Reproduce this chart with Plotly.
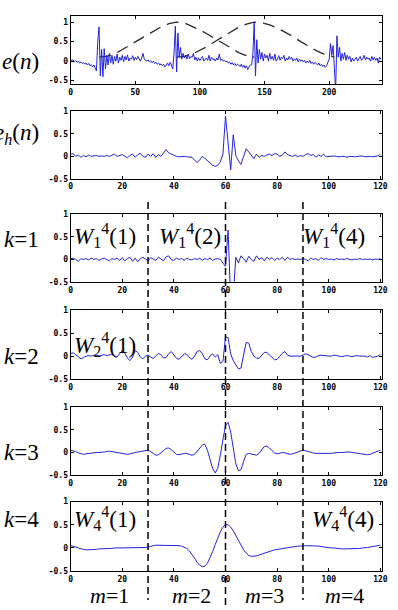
import plotly.graph_objects as go

# ---------------- data ----------------
e_n = [
    0.05, 0.02, 0.03, -0.02, 0.01, -0.03, 0.0, -0.05, -0.02, -0.06,
    -0.04, -0.08, -0.05, -0.1, -0.06, -0.12, -0.09, -0.15, -0.1, -0.2,
    -0.25, 0.5, 0.88, -0.38, 0.3, -0.4, 0.32, -0.2, 0.15, -0.1,
    0.2, -0.05, 0.15, -0.08, 0.12, 0.0, 0.18, -0.05, 0.1, 0.02,
    0.15, -0.02, 0.12, 0.03, 0.16, 0.0, 0.08, 0.05, 0.14, 0.02,
    0.1, 0.04, 0.12, 0.06, 0.0, 0.08, 0.2, 0.05, 0.02, 0.0,
    0.03, -0.02, 0.01, -0.04, 0.0, -0.06, -0.03, -0.08, -0.05, -0.1,
    -0.07, -0.12, -0.08, -0.15, -0.1, -0.05, -0.12, -0.03, -0.1, -0.2,
    0.2, 0.9, -0.28, 0.72, 0.1, 0.35, 0.05, 0.2, 0.08, 0.15,
    0.05, 0.18, 0.06, 0.12, 0.1, 0.2, 0.03, 0.1, 0.0, 0.08,
    0.02, 0.06, 0.12, 0.0, 0.05, 0.08, 0.02, 0.15, 0.0, 0.1,
    0.04, 0.06, 0.0, 0.08, 0.03, 0.18, 0.02, 0.05, 0.0, 0.02,
    -0.02, 0.0, -0.05, -0.02, -0.08, -0.04, -0.1, -0.06, -0.12, -0.08,
    -0.1, -0.14, -0.08, -0.16, -0.1, -0.18, -0.12, -0.22, -0.15, -0.1,
    -0.1, 0.2, 1.0, -0.38, 0.55, -0.05, 0.3, 0.05, 0.22, 0.0,
    0.18, 0.08, 0.15, 0.0, 0.2, 0.05, 0.12, 0.02, 0.18, 0.0,
    0.05, 0.14, 0.02, 0.1, 0.06, 0.15, 0.0, 0.08, 0.03, 0.12,
    0.05, 0.1, 0.0, 0.06, 0.02, 0.08, -0.02, 0.05, 0.0, 0.03,
    -0.02, 0.02, -0.05, 0.0, -0.04, 0.02, -0.06, -0.02, -0.08, -0.03,
    -0.06, -0.1, -0.05, -0.12, -0.08, -0.14, -0.1, -0.16, -0.12, -0.05,
    0.05, 0.45, 0.15, 0.4, -0.3, -0.75, 0.65, 0.1, 0.35, 0.0,
    0.2, 0.05, 0.22, 0.02, 0.15, 0.05, 0.12, -0.02, 0.08, 0.0,
    0.05, 0.1, 0.0, 0.08, 0.12, 0.02, 0.06, 0.15, 0.03, 0.1,
    0.05, 0.08, 0.0, 0.12, 0.03, 0.1, 0.02, 0.08, -0.05, 0.1,
    0.05,
]

window_a_n = [22, 28, 34, 40, 46, 52, 58, 64, 70, 76, 82, 88, 94, 100, 106, 112, 118, 124, 130, 136, 142]
window_a_v = [0.10, 0.12, 0.18, 0.30, 0.41, 0.53, 0.66, 0.78, 0.88, 0.96, 1.0, 0.98, 0.90, 0.80, 0.69, 0.57, 0.45, 0.33, 0.22, 0.14, 0.10]
window_b_n = [82, 88, 94, 100, 106, 112, 118, 124, 130, 136, 142, 148, 154, 160, 166, 172, 178, 184, 190, 196, 202, 204]
window_b_v = [0.10, 0.12, 0.18, 0.27, 0.38, 0.51, 0.63, 0.76, 0.87, 0.95, 1.0, 0.98, 0.93, 0.85, 0.75, 0.63, 0.50, 0.38, 0.27, 0.18, 0.12, 0.10]

e_h = [
    0.05, 0.06, 0.0, 0.03, -0.02, 0.02, -0.01, 0.03, 0.0, 0.01,
    0.02, 0.0, 0.01, 0.0, 0.02, 0.0, 0.03, 0.05, 0.0, 0.02,
    0.04, 0.0, -0.03, 0.02, 0.05, -0.02, 0.04, 0.07, 0.0, -0.02,
    0.05, 0.0, 0.06, -0.02, 0.04, 0.0, 0.08, 0.15, 0.08, 0.05,
    0.02, 0.0, -0.01, 0.0, 0.0, -0.01, -0.02, -0.02, -0.08, -0.14,
    -0.08, 0.0, -0.04, -0.1, -0.16, -0.2, -0.22, -0.2, -0.12, 0.05,
    0.9, 0.35, -0.3, 0.48, 0.02, -0.1, -0.18, 0.0, 0.17, 0.1,
    0.02, -0.05, 0.05, -0.02, 0.02, 0.0, 0.03, 0.05, 0.02, 0.06,
    0.05, 0.0, 0.03, 0.1, 0.04, 0.02, 0.0, 0.03, -0.01, 0.02,
    0.0, 0.04, 0.06, 0.02, 0.04, -0.02, 0.03, 0.0, 0.05, -0.01,
    0.0, 0.0, 0.01, 0.0, -0.01, 0.0, 0.0, -0.02, 0.0, 0.0,
    -0.01, 0.0, 0.0, 0.01, -0.01, 0.0, 0.0, -0.01, 0.0, 0.01,
    0.05,
]

w_k1 = [
    0.02, 0.03, 0.0, -0.04, 0.02, 0.0, 0.02, -0.01, 0.03, 0.0,
    0.02, -0.02, 0.01, 0.03, 0.0, -0.03, 0.02, 0.0, 0.03, -0.02,
    0.04, -0.03, 0.02, 0.05, -0.04, 0.03, -0.05, 0.02, 0.05, 0.0,
    -0.03, 0.04, 0.0, -0.02, 0.05, 0.0, -0.03, 0.06, 0.08, 0.0,
    -0.02, 0.03, 0.0, 0.02, -0.02, 0.03, 0.0, -0.01, 0.02, 0.0,
    0.03, -0.02, 0.02, 0.0, 0.03, -0.02, 0.01, 0.02, 0.0, -0.08,
    -0.15, 0.65, -0.9, -0.8, 0.05, -0.08, 0.08, 0.02, -0.06, 0.07,
    0.0, -0.04, 0.08, 0.0, 0.04, -0.03, 0.05, 0.0, 0.04, -0.02,
    0.03, 0.0, 0.05, -0.02, 0.05, 0.0, 0.02, 0.0, 0.01, 0.0,
    0.02, 0.0, -0.03, 0.03, 0.0, 0.02, -0.02, 0.04, 0.0, 0.02,
    0.0, 0.01, -0.01, 0.02, 0.0, 0.01, 0.0, 0.02, 0.0, -0.01,
    0.01, 0.0, 0.02, 0.0, 0.01, 0.0, 0.01, -0.01, 0.01, 0.0,
    0.02,
]

w_k2 = [
    0.06, 0.07, 0.03, -0.02, -0.06, -0.03, 0.0, 0.01, 0.0, 0.02,
    0.02, 0.0, 0.02, 0.03, 0.01, 0.02, 0.04, 0.0, -0.02, 0.05,
    0.12, 0.06, -0.04, -0.1, -0.02, 0.12, 0.08, -0.02, -0.06, 0.0,
    0.02, -0.02, -0.05, 0.0, 0.06, 0.03, -0.04, -0.03, 0.05, 0.1,
    0.03, -0.05, -0.07, 0.0, 0.05, 0.04, -0.03, -0.07, 0.0, 0.1,
    0.12, 0.05, -0.06, -0.08, 0.0, 0.05, -0.02, 0.03, -0.16, -0.12,
    0.42, 0.4, 0.05, -0.1, -0.2, -0.28, -0.26, 0.05, 0.3, 0.28,
    0.1, 0.0, -0.04, -0.05, 0.02, 0.08, 0.08, 0.03, -0.03, -0.08,
    -0.07, 0.0, 0.06, 0.1, 0.02, 0.0, 0.0, 0.0, -0.01, 0.0,
    0.02, 0.05, 0.03, 0.0, -0.03, -0.02, 0.01, 0.02, 0.01, 0.0,
    0.0, 0.0, 0.02, 0.01, 0.0, -0.01, 0.0, 0.01, 0.0, -0.01,
    0.0, 0.01, 0.0, 0.0, 0.0, -0.02, 0.01, -0.03, -0.01, 0.0,
    0.04,
]

w_k3 = [
    0.05, 0.04, 0.02, -0.01, -0.03, -0.04, -0.03, -0.02, -0.01, 0.0,
    0.0, 0.0, 0.0, 0.01, 0.02, 0.03, 0.02, 0.01, 0.0, -0.02,
    -0.03, -0.04, -0.04, -0.03, -0.01, 0.0, 0.01, 0.02, 0.03, 0.04,
    0.05, 0.02, -0.03, -0.06, -0.05, -0.01, 0.04, 0.09, 0.1, 0.06,
    0.0, -0.04, -0.05, -0.03, -0.02, -0.02, -0.04, -0.06, -0.04, 0.02,
    0.1, 0.16, 0.18, 0.05, -0.15, -0.35, -0.45, -0.35, -0.05, 0.3,
    0.6, 0.66, 0.45, 0.1, -0.25, -0.4, -0.38, -0.2, -0.04, -0.02,
    -0.03, -0.05, -0.06, -0.02, 0.06, 0.13, 0.14, 0.1, 0.04, -0.01,
    -0.03, -0.02, 0.0, -0.01, -0.03, -0.04, -0.03, -0.01, 0.01, 0.03,
    0.05, 0.04, 0.02, 0.0, -0.01, -0.02, -0.02, -0.02, -0.03, -0.03,
    -0.03, -0.02, -0.01, 0.0, 0.0, 0.0, 0.01, 0.01, 0.01, 0.0,
    0.0, -0.01, -0.02, -0.03, -0.04, -0.05, -0.04, -0.02, 0.0, 0.03,
    0.05,
]

w_k4 = [
    0.05, 0.04, 0.02, 0.0, -0.02, -0.03, -0.04, -0.04, -0.04, -0.03,
    -0.03, -0.02, -0.02, -0.01, -0.01, -0.01, -0.01, 0.0, 0.0, 0.0,
    0.0, 0.0, 0.0, 0.0, 0.0, 0.0, 0.0, 0.0, 0.01, 0.01,
    0.02, 0.04, 0.05, 0.06, 0.06, 0.06, 0.06, 0.05, 0.05, 0.05,
    0.05, 0.05, 0.05, 0.04, 0.02, -0.01, -0.06, -0.13, -0.22, -0.31,
    -0.37, -0.4, -0.39, -0.33, -0.22, -0.08, 0.07, 0.22, 0.35, 0.45,
    0.5, 0.5, 0.45, 0.37, 0.27, 0.16, 0.05, -0.04, -0.11, -0.16,
    -0.18, -0.18, -0.17, -0.15, -0.13, -0.11, -0.09, -0.07, -0.05, -0.04,
    -0.03, -0.02, -0.01, 0.0, 0.0, 0.01, 0.02, 0.03, 0.04, 0.04,
    0.05, 0.05, 0.05, 0.05, 0.05, 0.04, 0.04, 0.03, 0.02, 0.02,
    0.01, 0.0, 0.0, -0.01, -0.01, -0.02, -0.02, -0.02, -0.02, -0.02,
    -0.02, -0.01, -0.01, 0.0, 0.0, 0.01, 0.02, 0.03, 0.04, 0.05,
    0.06,
]

top_xticks = [0, 50, 100, 150, 200]
sub_xticks = [0, 20, 40, 60, 80, 100, 120]
y_ticks = [-0.5, 0, 0.5, 1]
y_ticktext = ["-0.5", "0", "0.5", "1"]
boundaries = [30, 60, 90]
m_labels = ["<i>m</i>=1", "<i>m</i>=2", "<i>m</i>=3", "<i>m</i>=4"]
m_centers = [15, 47, 75, 106]
left_labels = ["<i>e</i>(<i>n</i>)", "<i>e<sub>h</sub></i>(<i>n</i>)",
               "<i>k</i>=1", "<i>k</i>=2", "<i>k</i>=3", "<i>k</i>=4"]
left_label_y = [0, 0.5, 0.45, 0, 0, 0.62]

# ---------------- layout geometry (pixels) ----------------
W, H = 398, 610
panels_px = [(12.5, 81.7), (109, 177.5), (213.3, 282.3), (310.7, 380.7), (409, 478.3), (505, 575.7)]

def ydom(top, bot):
    return [1 - bot / H, 1 - top / H]

blue = "#2323dc"
fig = go.Figure()

# panel 1 windows (dashed)
for xs, ys in [(window_a_n, window_a_v), (window_b_n, window_b_v)]:
    fig.add_trace(go.Scatter(x=xs, y=ys, xaxis="x", yaxis="y", mode="lines",
                             line=dict(color="#2a2a2a", width=1.3, dash="12px,7px"),
                             hoverinfo="skip"))
fig.add_trace(go.Scatter(x=list(range(len(e_n))), y=e_n, xaxis="x", yaxis="y",
                         mode="lines", line=dict(color=blue, width=1)))

series = [e_h, w_k1, w_k2, w_k3, w_k4]
for i, s in enumerate(series):
    k = i + 2
    fig.add_trace(go.Scatter(x=list(range(len(s))), y=s, xaxis=f"x{k}", yaxis=f"y{k}",
                             mode="lines", line=dict(color=blue, width=1)))

axis_common = dict(showline=True, linecolor="black", linewidth=1, mirror="ticks",
                   ticks="inside", ticklen=3, tickcolor="black", showgrid=False,
                   zeroline=False,
                   tickfont=dict(family="DejaVu Sans Mono", size=8, color="black", weight="bold"))

layout = dict(width=W, height=H, margin=dict(l=0, r=0, t=0, b=0),
              paper_bgcolor="white", plot_bgcolor="white", showlegend=False)

for i, (top, bot) in enumerate(panels_px):
    k = i + 1
    xn = "xaxis" if k == 1 else f"xaxis{k}"
    yn = "yaxis" if k == 1 else f"yaxis{k}"
    if k == 1:
        xd = [70 / W, 388 / W]
        xr = [0, 241]
        xt = top_xticks
        yr = [-0.6, 1.15]
    else:
        xd = [70 / W, 387.5 / W]
        xr = [0, 120.5]
        xt = sub_xticks
        yr = [-0.5, 1.0]
    layout[xn] = dict(axis_common, domain=xd, range=xr, tickvals=xt,
                      ticktext=[str(v) for v in xt], anchor=("y" if k == 1 else f"y{k}"))
    layout[yn] = dict(axis_common, domain=ydom(top, bot), range=yr, tickvals=y_ticks,
                      ticktext=y_ticktext, anchor=("x" if k == 1 else f"x{k}"))

fig.update_layout(**layout)

# dashed vertical boundaries
for b in boundaries:
    y_end = 0 if b == 60 else 1 - 605 / H
    fig.add_shape(type="line", xref="x6", yref="paper", x0=b, x1=b,
                  y0=1 - 201 / H, y1=y_end, layer="above",
                  line=dict(color="black", width=1.5, dash="7px,4px"))

serif = "Liberation Serif"
ann = []
# left labels
for i, (txt, yv) in enumerate(zip(left_labels, left_label_y)):
    yr_ = "y" if i == 0 else f"y{i + 1}"
    ann.append(dict(text=txt, xref="paper", x=40 / W, xanchor="right",
                    yref=yr_, y=yv, yanchor="middle", showarrow=False,
                    font=dict(family=serif, size=23, color="black")))

# coefficient labels
coef = [("<i>W</i><sub>1</sub><sup>4</sup>(1)", 3, 1, 0.52),
        ("<i>W</i><sub>1</sub><sup>4</sup>(2)", 3, 34, 0.52),
        ("<i>W</i><sub>1</sub><sup>4</sup>(4)", 3, 89.5, 0.52),
        ("<i>W</i><sub>2</sub><sup>4</sup>(1)", 4, 1, 0.25),
        ("<i>W</i><sub>4</sub><sup>4</sup>(1)", 6, 1, 0.63),
        ("<i>W</i><sub>4</sub><sup>4</sup>(4)", 6, 93, 0.63)]
for txt, k, xv, yv in coef:
    ann.append(dict(text=txt, xref=f"x{k}", yref=f"y{k}", x=xv, y=yv,
                    xanchor="left", yanchor="middle", showarrow=False, borderpad=0,
                    font=dict(family=serif, size=23, color="black")))

# bottom m labels
for txt, c in zip(m_labels, m_centers):
    ann.append(dict(text=txt, xref="x6", yref="paper", x=c, y=1 - 600 / H,
                    xanchor="center", yanchor="middle", showarrow=False, borderpad=0,
                    font=dict(family=serif, size=22, color="black")))

fig.update_layout(annotations=ann)
fig.write_html("out.html")
